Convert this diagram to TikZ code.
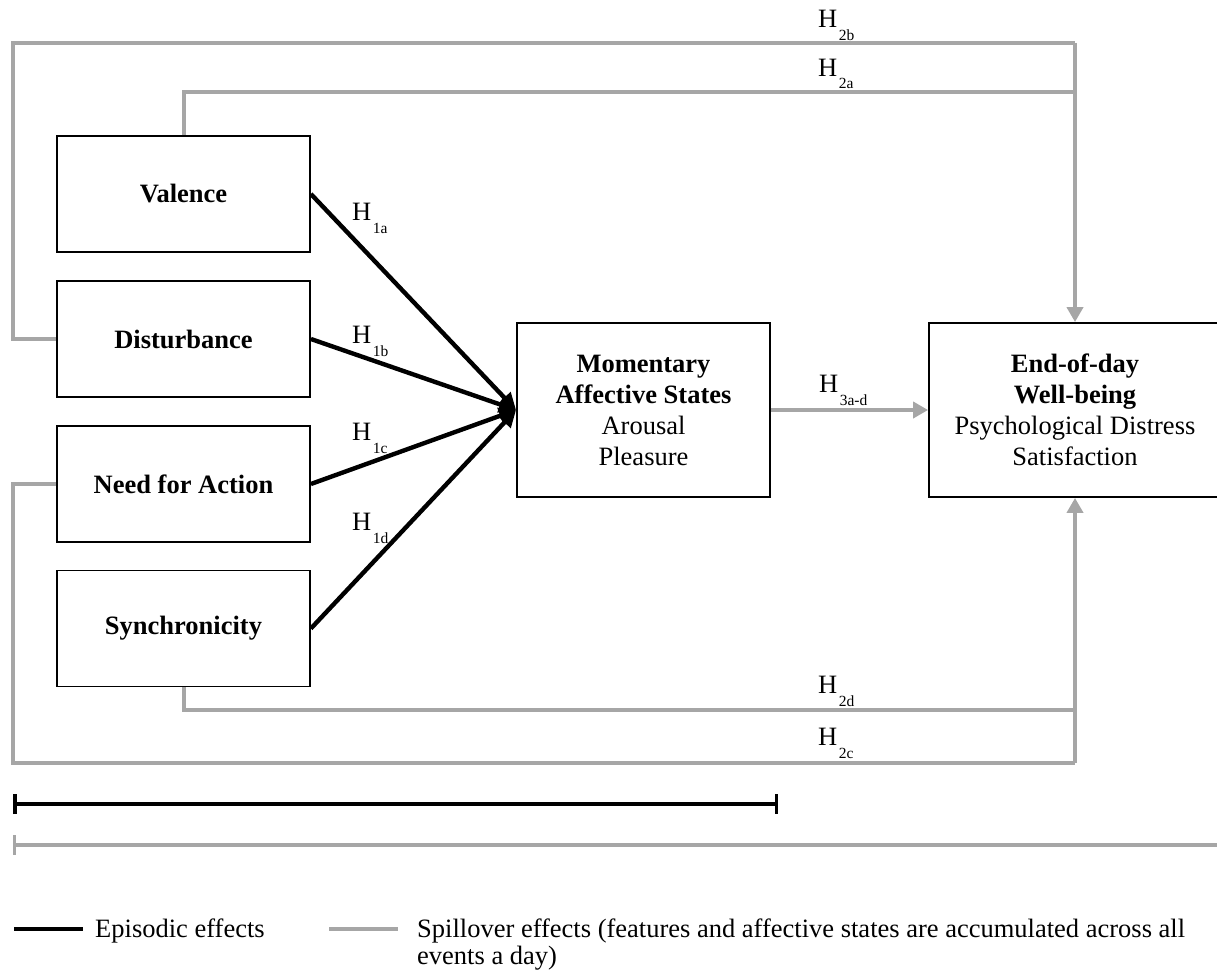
\documentclass[tikz,border=0pt]{standalone}
\usepackage{fontspec}
\setmainfont{Liberation Serif}
\usetikzlibrary{arrows.meta}
\definecolor{spillgray}{HTML}{A6A6A6}
% hypothesis label: H with a deeply lowered small index
\newcommand{\hyp}[1]{H\kern1.5pt\raisebox{-13pt}{\fontsize{15.5}{15.5}\selectfont #1}}
\begin{document}
\begin{tikzpicture}[x=1pt,y=-1pt,
  every node/.style={font=\fontsize{26.5}{31}\selectfont},
  var/.style={draw, line width=1.8pt, minimum width=253pt, minimum height=116pt,
              inner sep=0pt, align=center, font=\fontsize{26.5}{31}\selectfont\bfseries},
  outcome/.style={draw, line width=1.8pt, minimum height=174pt, inner sep=0pt, align=center},
  episodic/.style={line width=4.4pt, draw=black},
  spill/.style={line width=4pt, draw=spillgray},
  tip/.style={-{Triangle[length=15pt,width=16pt]}},
  hlab/.style={anchor=base west, inner sep=0pt}
]
\useasboundingbox (0,0) rectangle (1217,974);

% predictors
\node[var] (val) at (183.5,194)   {Valence};
\node[var] (dis) at (183.5,339)   {Disturbance};
\node[var] (nfa) at (183.5,484)   {Need for Action};
\node[var] (syn) at (183.5,628.5) {Synchronicity};

% mediator and outcome
\node[outcome, minimum width=253pt] (mas) at (643.5,410)
  {\textbf{Momentary}\\\textbf{Affective States}\\Arousal\\Pleasure};
\node[outcome, minimum width=292pt] (eod) at (1075,410)
  {\textbf{End-of-day}\\\textbf{Well-being}\\Psychological Distress\\Satisfaction};

% junctions of the spillover paths
\coordinate (j2b) at (1075,43);
\coordinate (j2a) at (1075,92);
\coordinate (j2d) at (1075,710);
\coordinate (j2c) at (1075,763);
\coordinate (lt)  at (13,43);
\coordinate (lb)  at (13,763);

% spillover effects (top)
\draw[spill, line join=miter] (dis.west) -- (13,339) -- (lt) -- (j2b);
\draw[spill, line join=miter] (val.north) |- (j2a);
\draw[spill, tip] (j2b) -- (eod.north);

% spillover effects (bottom)
\draw[spill, line join=miter] (syn.south) |- (j2d);
\draw[spill, line join=miter] (nfa.west) -- (13,484) -- (lb) -- (j2c);
\draw[spill, tip] (j2c) -- (eod.south);

% affective states to well-being
\draw[spill, tip] (mas.east) -- (eod.west);

% episodic effects
\draw[episodic, -{Triangle[length=17pt,width=16pt]}] (val.east) -- (mas.west);
\draw[episodic, -{Triangle[length=17pt,width=16pt]}] (dis.east) -- (mas.west);
\draw[episodic, -{Triangle[length=17pt,width=16pt]}] (nfa.east) -- (mas.west);
\draw[episodic, -{Triangle[length=17pt,width=16pt]}] (syn.east) -- (mas.west);

% hypothesis labels
\node[hlab] (h2b) at (818,28)  {\hyp{2b}};
\node[hlab] (h2a) at (818,76)  {\hyp{2a}};
\node[hlab] (h1a) at (352,220) {\hyp{1a}};
\node[hlab] (h1b) at (352,343) {\hyp{1b}};
\node[hlab] (h1c) at (352,440) {\hyp{1c}};
\node[hlab] (h1d) at (352,530) {\hyp{1d}};
\node[hlab] (h3)  at (819,392) {\hyp{3a-d}};
\node[hlab] (h2d) at (818,693) {\hyp{2d}};
\node[hlab] (h2c) at (818,745) {\hyp{2c}};

% time-span bars
\coordinate (eb1) at (13,804);
\coordinate (eb2) at (778,804);
\draw[episodic, line width=4pt, {Bar[width=20pt,line width=3.5pt]}-{Bar[width=20pt,line width=3.5pt]}] (eb1) -- (eb2);
\coordinate (sb1) at (13,845);
\coordinate (sb2) at (1222,845);
\draw[spill, {Bar[width=20pt,line width=3pt]}-] (sb1) -- (sb2);

% legend
\coordinate (le1) at (14,929);
\coordinate (le2) at (83,929);
\draw[episodic, line width=4pt] (le1) -- (le2);
\node[anchor=base west, inner sep=0pt] (leg1) at (95,937) {Episodic effects};
\coordinate (ls1) at (329,929);
\coordinate (ls2) at (398,929);
\draw[spill] (ls1) -- (ls2);
\node[anchor=base west, inner sep=0pt, align=left,
      font=\fontsize{26.5}{27}\selectfont] (leg2) at (417,964)
  {Spillover effects (features and affective states are accumulated across all\\events a day)};
\end{tikzpicture}
\end{document}
